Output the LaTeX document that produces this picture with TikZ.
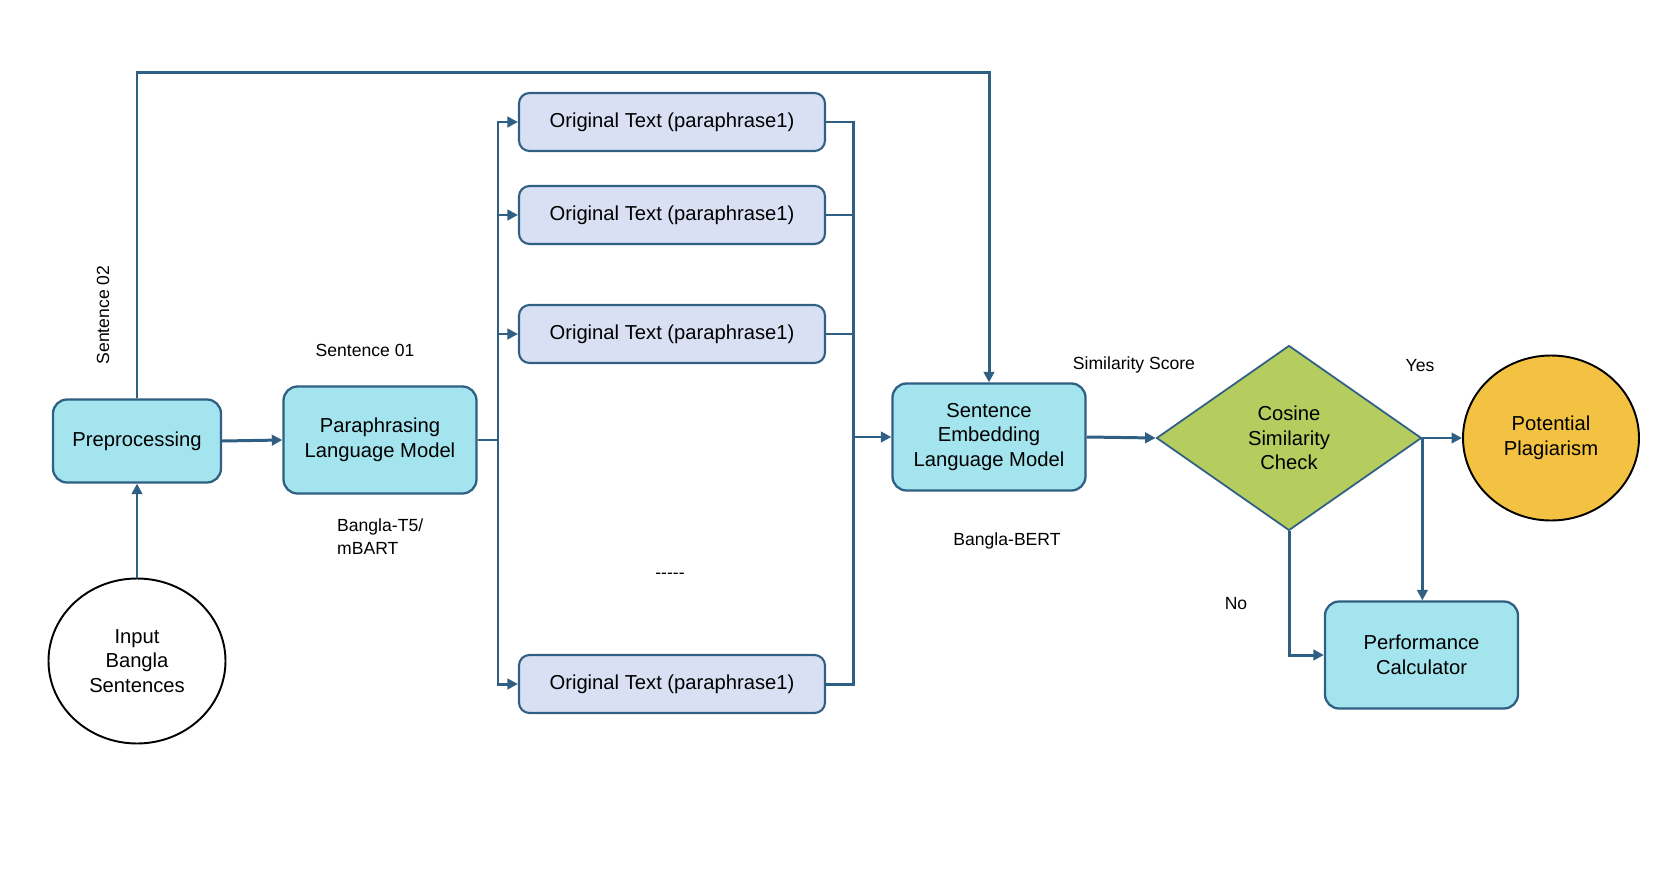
\documentclass[tikz,border=0pt]{standalone}
\usepackage{fontspec}
\setmainfont{Liberation Sans}
\usetikzlibrary{arrows.meta, positioning, calc, shapes.geometric}

\definecolor{flowline}{RGB}{47,95,130}
\definecolor{boxcyan}{RGB}{163,228,238}
\definecolor{boxlav}{RGB}{217,224,243}
\definecolor{chkgreen}{RGB}{181,205,95}
\definecolor{plagyellow}{RGB}{244,194,66}

\begin{document}
\begin{tikzpicture}[
  every node/.style = {
    align=center,
    font=\fontsize{11.5}{14}\selectfont
  },
  block/.style = {
    rounded corners=8pt,
    draw=flowline,
    fill=boxcyan,
    line width=1.3pt,
    minimum width=3.86cm,
    minimum height=2.14cm
  },
  origbox/.style = {
    rounded corners=6pt,
    draw=flowline,
    fill=boxlav,
    line width=1.2pt,
    minimum width=6.12cm,
    minimum height=1.16cm
  },
  terminal/.style = {ellipse, draw=black, line width=1.1pt, inner sep=0pt},
  decision/.style = {diamond, draw=flowline, fill=chkgreen, line width=1pt,
    minimum width=5.3cm, minimum height=3.7cm, inner sep=0pt},
  note/.style = {font=\fontsize{10}{13}\selectfont},
  line/.style = {draw=flowline, line width=1.7pt},
  arrow/.style = {line, -{Triangle[length=6pt, width=6pt]}}
]
\useasboundingbox (0,0) rectangle (33.44,-17.72);

% Input and preprocessing (left)
\node[terminal, fill=white, minimum width=3.54cm, minimum height=3.3cm] (inp) at (2.74,-13.22) {Input\\Bangla\\Sentences};
\node[block, minimum width=3.36cm, minimum height=1.66cm] (pre) at (2.74,-8.82) {Preprocessing};

% Paraphrasing model
\node[block] (para) at (7.6,-8.8) {Paraphrasing\\Language Model};

% Paraphrase outputs (middle column)
\node[origbox] (o1) at (13.44,-2.44) {Original Text (paraphrase1)};
\node[origbox] (o2) at (13.44,-4.30) {Original Text (paraphrase1)};
\node[origbox] (o3) at (13.44,-6.68) {Original Text (paraphrase1)};
\node[origbox] (o4) at (13.44,-13.68) {Original Text (paraphrase1)};

% Embedding, check and results (right)
\node[block] (emb) at (19.78,-8.74) {Sentence\\Embedding\\Language Model};
\node[decision] (chk) at (25.78,-8.76) {Cosine\\Similarity\\Check};
\node[terminal, fill=plagyellow, minimum width=3.52cm, minimum height=3.3cm] (plag) at (31.02,-8.76) {Potential\\Plagiarism};
\node[block] (perf) at (28.43,-13.1) {Performance\\Calculator};

% Bus points
\coordinate (split) at (9.96,-8.8);
\coordinate (merge) at (17.06,-8.74);
\coordinate (top) at (0,-1.45);

% === ARROWS ===
\draw[arrow] (inp.north) -- (pre.south);
\draw[arrow] (pre.east) -- (para.west);
\draw[line] (para.east) -- (split);
\foreach \o in {o1,o2,o3,o4}
  \draw[arrow] (split) |- (\o.west);
\foreach \o in {o1,o2,o3,o4}
  \draw[line] (\o.east) -| (merge);
\draw[arrow] (merge) -- (emb.west);
\draw[arrow] (pre.north) -- (pre.north |- top) -| (emb.north);
\draw[arrow] (emb.east) -- (chk.west);
\draw[arrow] (chk.east) -- (plag.west);
\draw[arrow] (chk.east) -- (chk.east |- perf.north);
\draw[arrow] (chk.south) |- (perf.west);

% === LABELS ===
\node[note, rotate=90] (s2) at (2.06,-6.3) {Sentence 02};
\node[note] (s1) at (7.3,-7.0) {Sentence 01};
\node[note, anchor=north west, align=left] (t5) at (6.62,-10.25) {Bangla-T5/\\mBART};
\node[note] (dots) at (13.4,-11.52) {{-}{-}{-}{-}{-}};
\node[note] (score) at (22.68,-7.3) {Similarity Score};
\node[note] (bert) at (20.14,-10.82) {Bangla-BERT};
\node[note] (yes) at (28.4,-7.32) {Yes};
\node[note] (no) at (24.72,-12.08) {No};

\end{tikzpicture}
\end{document}
